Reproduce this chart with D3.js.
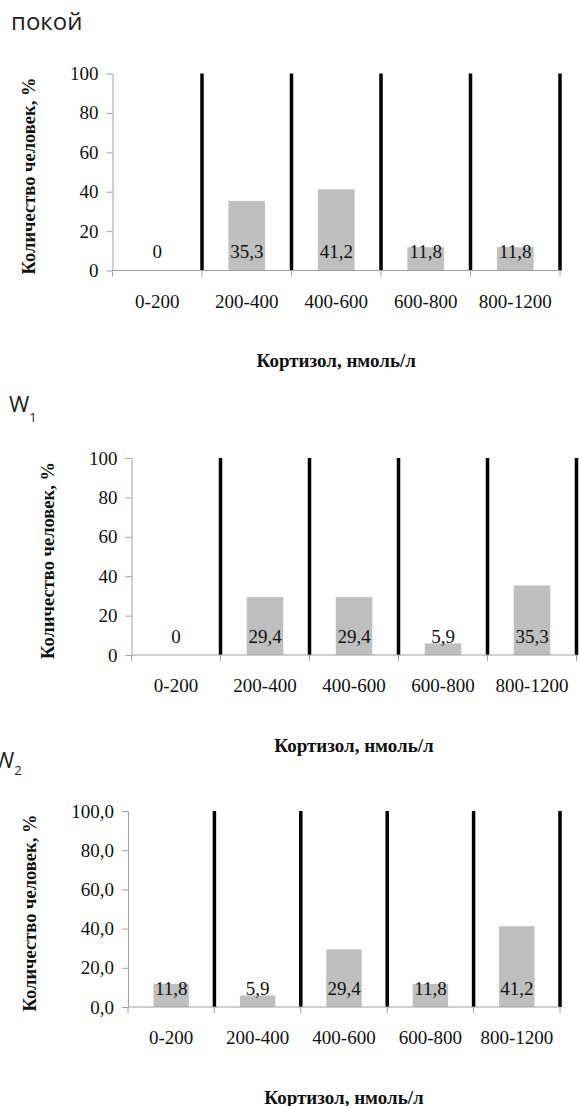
<!DOCTYPE html>
<html lang="ru">
<head>
<meta charset="utf-8">
<script src="https://cdnjs.cloudflare.com/ajax/libs/d3/7.8.5/d3.min.js"></script>
<style>
  html, body { margin: 0; padding: 0; background: #fff; }
  svg { display: block; }
  .serif { font-family: "Liberation Serif", "Times New Roman", Times, serif; }
  .sans { font-family: "Open Sans", "Noto Sans", sans-serif; }
</style>
</head>
<body>
<svg id="chart" width="579" height="1106"></svg>
<script>
// Cortisol groups (nmol/l) and share of people in each group, %
const categories = ["0-200", "200-400", "400-600", "600-800", "800-1200"];
const restValues = [0, 35.3, 41.2, 11.8, 11.8];
const w1Values = [0, 29.4, 29.4, 5.9, 35.3];
const w2Values = [11.8, 5.9, 29.4, 11.8, 41.2];
const yTicks = [0, 20, 40, 60, 80, 100];
const yDomain = [0, 100];

const xTitle = "Кортизол, нмоль/л";
const yTitle = "Количество человек, %";

const ru = d3.formatLocale({ decimal: ",", thousands: " ", grouping: [3], currency: ["", " ₽"] });
const fmtInt = ru.format("d");
const fmtOne = ru.format(".1f");

const svg = d3.select("#chart");

// Panel frames
const panels = [
  { values: restValues, tickFmt: fmtInt, labelFmt: v => v === 0 ? "0" : fmtOne(v),
    x0: 112.5, x1: 560, top: 73.5, zero: 270.5, yTitleX: 29 },
  { values: w1Values, tickFmt: fmtInt, labelFmt: v => v === 0 ? "0" : fmtOne(v),
    x0: 131.5, x1: 576.5, top: 458, zero: 655, yTitleX: 48 },
  { values: w2Values, tickFmt: fmtOne, labelFmt: v => fmtOne(v),
    x0: 128, x1: 560, top: 811, zero: 1007, yTitleX: 29.5 }
];

panels.forEach(p => {
  const g = svg.append("g");

  const x = d3.scaleBand().domain(categories).range([p.x0, p.x1])
    .paddingInner(0.59).paddingOuter(0.295);
  const slot = d3.scaleBand().domain(categories).range([p.x0, p.x1]).padding(0);
  const y = d3.scaleLinear().domain(yDomain).range([p.zero, p.top]);

  // Bars
  g.append("g").selectAll("rect")
    .data(categories.map((c, i) => ({ c, v: p.values[i] })))
    .join("rect")
    .attr("x", d => x(d.c))
    .attr("width", x.bandwidth())
    .attr("y", d => y(d.v))
    .attr("height", d => y(0) - y(d.v))
    .attr("fill", "#bfbfbf");

  // Thick separators at the right edge of every group
  g.append("g").selectAll("line")
    .data(categories)
    .join("line")
    .attr("x1", c => slot(c) + slot.bandwidth())
    .attr("x2", c => slot(c) + slot.bandwidth())
    .attr("y1", y(yDomain[1]))
    .attr("y2", y(0))
    .attr("stroke", "#000")
    .attr("stroke-width", 3.5);

  // Y axis
  const yAxis = g.append("g")
    .attr("transform", `translate(${p.x0},0)`)
    .call(d3.axisLeft(y).tickValues(yTicks).tickFormat(p.tickFmt).tickSize(6).tickPadding(8).tickSizeOuter(0));
  yAxis.attr("font-family", null).attr("font-size", null).attr("class", "serif");
  yAxis.select(".domain").attr("stroke", "#a0a0a0");
  yAxis.selectAll(".tick line").attr("stroke", "#a0a0a0");
  yAxis.selectAll(".tick text").style("font-size", "19px").attr("fill", "#111");

  // X axis: line along zero, ticks at group boundaries
  const xAxis = g.append("g").attr("class", "serif").attr("transform", `translate(0,${p.zero})`);
  xAxis.append("line").attr("x1", p.x0).attr("x2", p.x1).attr("stroke", "#a0a0a0");
  const bounds = [p.x0].concat(categories.map(c => slot(c) + slot.bandwidth()));
  xAxis.selectAll("line.tk").data(bounds).join("line").attr("class", "tk")
    .attr("x1", d => d).attr("x2", d => d).attr("y1", 0).attr("y2", 6)
    .attr("stroke", "#a0a0a0");
  xAxis.selectAll("text").data(categories).join("text")
    .attr("x", c => slot(c) + slot.bandwidth() / 2)
    .attr("y", 37)
    .attr("text-anchor", "middle")
    .style("font-size", "19px").attr("fill", "#111")
    .text(c => c);

  // Value labels at the base of each bar
  g.append("g").attr("class", "serif").selectAll("text")
    .data(categories.map((c, i) => ({ c, v: p.values[i] })))
    .join("text")
    .attr("x", d => slot(d.c) + slot.bandwidth() / 2)
    .attr("y", p.zero - 12.5)
    .attr("text-anchor", "middle")
    .style("font-size", "19px").attr("fill", "#111")
    .text(d => p.labelFmt(d.v));

  // Axis titles
  g.append("text").attr("class", "serif")
    .attr("x", (p.x0 + p.x1) / 2)
    .attr("y", p.zero + 96.5)
    .attr("text-anchor", "middle")
    .style("font-weight", "bold").style("font-size", "19px").attr("fill", "#111")
    .text(xTitle);

  g.append("text").attr("class", "serif")
    .attr("transform", `translate(${p.yTitleX},${(p.top + p.zero) / 2 + 4}) rotate(-90)`)
    .attr("text-anchor", "middle")
    .attr("dy", "0.35em")
    .style("font-weight", "bold").style("font-size", "18.5px").attr("fill", "#111")
    .text(yTitle);
});

// Panel headings
svg.append("text").attr("class", "sans").attr("x", 11).attr("y", 30)
  .style("font-size", "24px").attr("fill", "#231f20").text("покой");

const h1 = svg.append("text").attr("class", "sans").attr("x", 9).attr("y", 412)
  .style("font-size", "22px").attr("fill", "#231f20");
h1.append("tspan").text("W");
h1.append("tspan").style("font-size", "13px").attr("dy", 10).text("1");

const h2 = svg.append("text").attr("class", "sans").attr("x", -6).attr("y", 768)
  .style("font-size", "22px").attr("fill", "#231f20");
h2.append("tspan").text("W");
h2.append("tspan").style("font-size", "13px").attr("dy", 7).text("2");
</script>
</body>
</html>
